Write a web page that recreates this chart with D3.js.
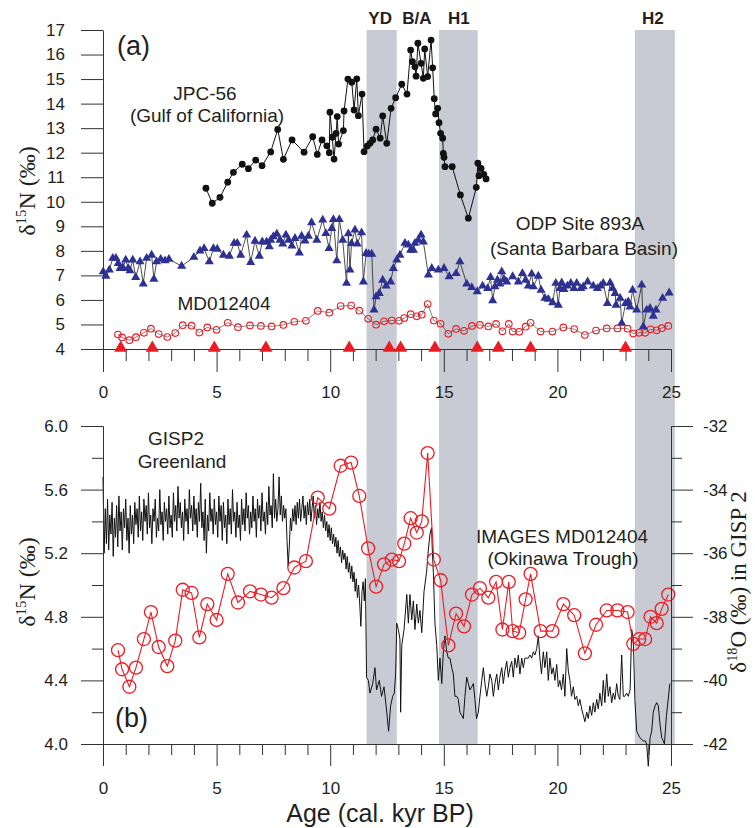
<!DOCTYPE html>
<html>
<head>
<meta charset="utf-8">
<script src="https://cdn.jsdelivr.net/npm/d3@7"></script>
<style>
  body { margin: 0; background: #fff; }
  text { font-family: "Liberation Sans", Arial, sans-serif; fill: #231f20; }
</style>
</head>
<body>
<svg id="chart" width="755" height="828"></svg>
<script>
// ---- data ----
// JPC-56 (Gulf of California), [age kyr, d15N]
const jpc56 = [[4.53,10.55],[4.81,9.94],[5.15,10.18],[5.49,10.8],[5.74,11.2],[6.13,11.53],[6.4,11.35],[6.72,11.7],[7.0,11.47],[7.38,12.03],[7.69,12.95],[7.94,11.73],[8.32,12.52],[8.85,12.02],[9.23,12.65],[9.43,11.93],[9.64,12.52],[9.85,12.28],[9.96,12.0],[9.99,13.65],[10.09,12.63],[10.17,11.74],[10.26,12.79],[10.31,13.47],[10.37,12.35],[10.58,12.9],[10.61,13.7],[10.78,15.0],[10.95,14.87],[11.05,13.74],[11.17,15.01],[11.24,13.51],[11.4,14.39],[11.49,12.04],[11.63,12.27],[11.75,12.38],[11.87,12.52],[12.02,12.96],[12.2,12.59],[12.31,13.5],[12.49,12.38],[12.68,13.81],[12.88,14.24],[13.15,14.79],[13.38,14.39],[13.54,16.18],[13.62,15.71],[13.73,15.5],[13.78,15.12],[13.86,16.46],[14.0,15.64],[14.1,15.03],[14.16,16.23],[14.29,15.1],[14.44,16.59],[14.51,15.46],[14.58,14.2],[14.64,13.58],[14.73,13.81],[14.79,13.22],[14.86,12.79],[14.95,12.59],[14.98,11.97],[15.01,11.81],[15.05,11.43],[15.37,11.43],[15.73,10.28],[16.08,9.33],[16.43,10.59],[16.5,11.57],[16.55,11.06],[16.64,11.36],[16.76,11.12],[16.86,10.93]];

// ODP Site 893A (Santa Barbara Basin)
const odp893A = [[0.01,7.15],[0.13,6.97],[0.28,7.22],[0.43,7.7],[0.57,7.7],[0.67,7.49],[0.75,7.29],[0.87,7.33],[1.0,7.63],[1.11,7.29],[1.19,7.19],[1.31,7.63],[1.44,6.92],[1.63,7.56],[1.77,6.65],[1.92,7.7],[2.14,7.83],[2.24,6.85],[2.36,7.56],[2.54,7.66],[2.73,7.6],[2.9,7.66],[3.46,7.38],[4.0,7.74],[4.27,8.0],[4.45,8.1],[4.68,7.56],[4.86,8.1],[5.03,8.07],[5.3,7.83],[5.56,7.79],[5.77,8.31],[5.91,8.31],[6.06,7.83],[6.32,8.65],[6.5,7.53],[6.69,8.4],[6.88,7.79],[7.01,8.37],[7.2,8.37],[7.32,8.17],[7.38,8.44],[7.5,8.58],[7.65,8.69],[7.79,8.44],[7.91,8.28],[8.05,8.65],[8.17,8.44],[8.31,8.2],[8.45,8.51],[8.64,7.92],[8.74,8.6],[8.89,8.41],[9.04,8.6],[9.18,9.15],[9.41,8.44],[9.67,9.26],[9.81,8.71],[9.95,8.1],[10.07,8.92],[10.14,9.28],[10.29,7.6],[10.4,9.28],[10.55,8.44],[10.72,6.68],[10.8,8.7],[10.87,7.22],[10.94,8.3],[11.09,8.85],[11.19,8.28],[11.38,8.74],[11.46,6.74],[11.58,7.9],[11.7,7.87],[11.83,7.87],[11.93,5.59],[12.02,6.13],[12.16,6.27],[12.31,6.81],[12.46,6.57],[12.66,6.74],[12.78,7.29],[12.93,7.63],[13.07,7.83],[13.29,8.31],[13.44,8.24],[13.54,8.03],[13.66,8.03],[13.73,8.31],[13.88,8.44],[14.0,8.65],[14.1,8.37],[14.32,7.02],[14.47,7.29],[14.76,7.22],[15.01,7.29],[15.24,6.95],[15.54,7.08],[15.71,7.56],[16.01,6.65],[16.23,6.51],[16.47,6.34],[16.71,6.57],[16.93,6.47],[17.06,6.92],[17.15,5.97],[17.25,6.54],[17.36,6.81],[17.47,6.65],[17.55,7.15],[17.65,6.84],[17.77,6.74],[18.03,6.95],[18.28,6.74],[18.46,7.08],[18.6,6.81],[18.72,6.57],[18.87,7.06],[18.94,6.54],[19.16,6.97],[19.28,6.4],[19.45,6.07],[19.6,6.03],[19.79,5.89],[19.93,6.68],[20.04,5.79],[20.11,6.47],[20.19,6.7],[20.29,6.43],[20.44,6.57],[20.59,6.68],[20.73,6.47],[20.85,6.68],[21.03,6.47],[21.14,6.54],[21.33,6.74],[21.58,6.57],[21.76,6.47],[21.9,6.57],[22.02,6.68],[22.2,5.86],[22.32,6.7],[22.43,6.47],[22.54,6.27],[22.58,5.79],[22.76,6.07],[22.83,5.05],[23.0,5.86],[23.12,5.93],[23.2,5.72],[23.31,6.4],[23.49,5.59],[23.71,6.61],[23.78,4.91],[23.93,5.59],[24.08,5.66],[24.22,5.34],[24.34,5.59],[24.63,6.07],[24.92,6.29]];

// IMAGES MD012404 (Okinawa Trough) d15N, used in both panels
const md012404 = [[0.66,4.59],[0.84,4.47],[1.16,4.36],[1.45,4.48],[1.8,4.66],[2.11,4.83],[2.45,4.61],[2.83,4.49],[3.18,4.65],[3.51,4.97],[3.9,4.95],[4.24,4.67],[4.59,4.88],[5.0,4.78],[5.49,5.07],[5.94,4.89],[6.47,4.96],[6.95,4.94],[7.42,4.92],[7.94,4.98],[8.42,5.11],[8.93,5.15],[9.45,5.55],[9.96,5.48],[10.46,5.75],[10.92,5.77],[11.28,5.56],[11.67,5.23],[12.02,4.99],[12.37,5.13],[12.71,5.16],[13.03,5.15],[13.26,5.26],[13.54,5.42],[13.81,5.33],[14.03,5.4],[14.29,5.83],[14.56,5.16],[14.86,5.03],[15.2,4.62],[15.54,4.82],[15.89,4.74],[16.24,4.94],[16.59,4.98],[16.96,4.92],[17.3,5.02],[17.58,4.72],[17.86,5.02],[18.03,4.71],[18.32,4.7],[18.6,4.91],[18.82,5.07],[19.26,4.71],[19.78,4.71],[20.26,4.88],[20.74,4.81],[21.21,4.57],[21.7,4.75],[22.17,4.84],[22.64,4.84],[23.09,4.83],[23.34,4.63],[23.6,4.66],[23.86,4.66],[24.1,4.8],[24.37,4.76],[24.59,4.85],[24.88,4.94]];

// radiocarbon-dated levels in MD012404 (red triangles)
const datedAges = [0.78,2.17,4.9,7.17,10.84,12.6,13.1,14.61,16.47,17.4,18.82,23.0];

// GISP2 d18O (per mil), [age kyr, d18O]
const gisp2 = [[0,-33.6],[0.05,-36.0],[0.1,-34.6],[0.15,-35.7],[0.2,-34.3],[0.25,-35.9],[0.3,-34.8],[0.35,-35.4],[0.4,-34.4],[0.45,-36.1],[0.5,-34.9],[0.55,-35.5],[0.6,-34.5],[0.65,-35.8],[0.7,-34.2],[0.75,-35.3],[0.8,-34.7],[0.85,-35.9],[0.9,-34.6],[0.95,-35.2],[1.0,-34.3],[1.05,-35.6],[1.1,-34.9],[1.15,-36.0],[1.2,-34.5],[1.25,-35.4],[1.3,-34.8],[1.35,-35.7],[1.4,-34.4],[1.45,-35.1],[1.5,-34.6],[1.55,-35.5],[1.6,-34.2],[1.65,-35.3],[1.7,-34.7],[1.75,-35.6],[1.8,-34.3],[1.85,-35.0],[1.9,-34.5],[1.95,-35.4],[2.0,-34.1],[2.05,-35.2],[2.1,-34.8],[2.15,-35.7],[2.2,-34.6],[2.25,-35.0],[2.3,-34.3],[2.35,-35.5],[2.4,-34.9],[2.45,-35.3],[2.5,-34.0],[2.55,-35.1],[2.6,-34.7],[2.65,-35.6],[2.7,-34.4],[2.75,-35.0],[2.8,-34.6],[2.85,-35.4],[2.9,-34.2],[2.95,-35.2],[3.0,-34.8],[3.05,-35.5],[3.1,-34.1],[3.15,-35.0],[3.2,-34.5],[3.25,-35.3],[3.3,-33.9],[3.35,-34.9],[3.4,-34.4],[3.45,-35.2],[3.5,-34.7],[3.55,-35.6],[3.6,-34.3],[3.65,-35.0],[3.7,-34.6],[3.75,-35.4],[3.8,-34.0],[3.85,-34.9],[3.9,-34.5],[3.95,-35.3],[4.0,-34.2],[4.05,-35.1],[4.1,-34.6],[4.15,-35.5],[4.2,-34.4],[4.25,-35.0],[4.3,-33.8],[4.35,-35.2],[4.4,-34.7],[4.45,-35.6],[4.5,-34.3],[4.55,-36.0],[4.6,-34.8],[4.65,-35.3],[4.7,-34.1],[4.75,-35.0],[4.8,-34.6],[4.85,-35.4],[4.9,-34.3],[4.95,-35.1],[5.0,-34.7],[5.05,-35.5],[5.1,-34.2],[5.15,-35.0],[5.2,-34.5],[5.25,-35.6],[5.3,-34.4],[5.35,-35.2],[5.4,-34.8],[5.45,-35.7],[5.5,-34.3],[5.55,-35.1],[5.6,-34.6],[5.65,-35.4],[5.7,-34.0],[5.75,-35.0],[5.8,-34.7],[5.85,-35.5],[5.9,-34.4],[5.95,-35.2],[6.0,-34.8],[6.05,-35.6],[6.1,-34.3],[6.15,-35.1],[6.2,-34.6],[6.25,-35.3],[6.3,-34.1],[6.35,-34.9],[6.4,-34.5],[6.45,-35.4],[6.5,-34.7],[6.55,-35.2],[6.6,-34.2],[6.65,-35.0],[6.7,-34.6],[6.75,-35.5],[6.8,-34.3],[6.85,-34.9],[6.9,-34.5],[6.95,-35.3],[7.0,-34.1],[7.05,-35.0],[7.1,-34.7],[7.15,-35.4],[7.2,-34.4],[7.25,-35.1],[7.3,-33.9],[7.35,-34.8],[7.4,-34.5],[7.45,-35.2],[7.5,-33.5],[7.55,-34.9],[7.6,-34.3],[7.65,-35.0],[7.7,-34.6],[7.75,-33.6],[7.8,-34.8],[7.85,-34.2],[7.9,-35.0],[7.95,-34.5],[8.0,-34.9],[8.05,-34.6],[8.1,-35.6],[8.15,-36.4],[8.2,-35.8],[8.25,-34.9],[8.3,-35.3],[8.35,-34.6],[8.4,-35.0],[8.45,-34.5],[8.5,-35.1],[8.55,-34.4],[8.6,-34.9],[8.65,-34.3],[8.7,-35.0],[8.75,-34.6],[8.8,-34.2],[8.85,-34.9],[8.9,-34.5],[8.95,-35.1],[9.0,-34.4],[9.05,-34.8],[9.1,-34.3],[9.15,-35.0],[9.2,-34.6],[9.25,-34.2],[9.3,-34.9],[9.35,-34.5],[9.4,-35.1],[9.45,-34.6],[9.5,-34.9],[9.55,-34.4],[9.6,-35.0],[9.65,-34.7],[9.7,-35.2],[9.75,-34.8],[9.8,-35.3],[9.85,-35.0],[9.9,-35.5],[9.95,-35.1],[10.0,-35.6],[10.05,-35.2],[10.1,-35.7],[10.15,-35.4],[10.2,-35.8],[10.25,-35.5],[10.3,-36.0],[10.35,-35.6],[10.4,-36.1],[10.45,-35.8],[10.5,-36.3],[10.55,-35.9],[10.6,-36.2],[10.65,-36.0],[10.7,-36.5],[10.75,-36.1],[10.8,-36.6],[10.85,-36.3],[10.9,-36.8],[10.95,-36.4],[11.0,-36.9],[11.05,-36.6],[11.1,-37.2],[11.15,-36.8],[11.2,-37.4],[11.25,-37.0],[11.3,-37.6],[11.35,-38.3],[11.4,-37.2],[11.45,-36.9],[11.5,-37.5],[11.55,-36.8],[11.6,-39.9],[11.68,-40.0],[11.75,-40.4],[11.87,-40.1],[11.97,-39.6],[12.04,-40.3],[12.16,-40.0],[12.26,-40.5],[12.37,-40.2],[12.49,-41.0],[12.57,-41.6],[12.66,-40.8],[12.75,-40.5],[12.82,-40.4],[12.88,-39.8],[12.93,-38.2],[13.0,-38.4],[13.07,-38.7],[13.1,-41.0],[13.15,-38.9],[13.25,-38.4],[13.37,-37.3],[13.44,-38.2],[13.51,-37.3],[13.59,-38.1],[13.66,-37.5],[13.73,-38.4],[13.81,-37.6],[13.88,-38.2],[13.95,-37.8],[14.03,-38.5],[14.13,-37.2],[14.24,-36.6],[14.32,-35.9],[14.39,-35.4],[14.46,-35.2],[14.5,-36.0],[14.54,-36.6],[14.61,-38.2],[14.69,-38.9],[14.76,-40.0],[14.83,-39.3],[14.91,-40.1],[14.98,-39.1],[15.05,-38.6],[15.13,-39.1],[15.2,-39.3],[15.27,-39.3],[15.35,-39.6],[15.42,-39.8],[15.49,-40.5],[15.57,-40.5],[15.64,-40.6],[15.71,-41.0],[15.79,-41.1],[15.86,-41.2],[15.93,-40.5],[16.01,-39.9],[16.08,-40.1],[16.15,-40.3],[16.23,-40.2],[16.3,-40.1],[16.37,-40.6],[16.44,-41.2],[16.52,-41.0],[16.59,-40.5],[16.67,-40.0],[16.74,-39.6],[16.81,-40.1],[16.89,-40.5],[16.96,-40.2],[17.03,-39.8],[17.11,-40.0],[17.18,-40.5],[17.25,-40.1],[17.33,-39.8],[17.4,-40.3],[17.47,-39.9],[17.55,-39.6],[17.62,-40.1],[17.69,-39.7],[17.77,-39.4],[17.84,-39.9],[17.91,-39.6],[17.99,-39.4],[18.06,-39.9],[18.13,-39.3],[18.21,-39.6],[18.28,-39.2],[18.35,-39.8],[18.43,-39.3],[18.5,-39.6],[18.57,-39.3],[18.65,-39.3],[18.72,-39.3],[18.79,-39.2],[18.87,-39.3],[18.94,-39.1],[19.01,-39.2],[19.09,-39.0],[19.16,-38.6],[19.23,-39.3],[19.3,-39.8],[19.38,-39.1],[19.45,-39.6],[19.53,-39.1],[19.6,-40.0],[19.67,-39.3],[19.75,-39.8],[19.82,-39.6],[19.89,-40.0],[19.97,-39.5],[20.04,-40.2],[20.11,-40.0],[20.18,-40.3],[20.26,-39.8],[20.33,-40.5],[20.41,-39.0],[20.48,-39.7],[20.55,-40.0],[20.62,-40.5],[20.7,-40.2],[20.77,-40.6],[20.85,-40.5],[20.92,-40.8],[20.99,-40.6],[21.07,-40.9],[21.14,-41.1],[21.21,-41.3],[21.29,-41.0],[21.36,-41.2],[21.43,-40.8],[21.51,-41.1],[21.58,-40.7],[21.65,-41.0],[21.73,-40.6],[21.8,-40.9],[21.87,-40.4],[21.95,-40.8],[22.02,-40.0],[22.09,-40.7],[22.17,-39.8],[22.24,-40.5],[22.31,-40.2],[22.39,-40.7],[22.46,-40.4],[22.53,-40.6],[22.61,-40.1],[22.68,-40.5],[22.75,-40.6],[22.83,-39.2],[22.9,-40.5],[22.97,-40.5],[23.05,-40.4],[23.12,-40.5],[23.2,-40.3],[23.27,-38.4],[23.34,-38.7],[23.41,-40.6],[23.49,-41.6],[23.63,-41.8],[23.78,-41.9],[23.86,-41.9],[23.93,-42.0],[24.0,-42.7],[24.08,-41.8],[24.15,-41.6],[24.22,-41.0],[24.3,-40.8],[24.37,-40.7],[24.44,-40.8],[24.52,-41.4],[24.59,-41.8],[24.66,-41.9],[24.71,-42.0],[24.8,-41.1],[24.95,-40.1]];

// climate events: shaded intervals (kyr) and labels
const events = [
  { name: "YD", start: 11.6, end: 12.93, label: 12.2 },
  { name: "B/A", label: 13.82 },
  { name: "H1", start: 14.79, end: 16.49, label: 15.66 },
  { name: "H2", start: 23.41, end: 25.17, label: 24.2 }
];

const ageTicks = [0, 5, 10, 15, 20, 25];
const ageMinor = [1, 2, 3, 4, 6, 7, 8, 9, 11, 12, 13, 14, 16, 17, 18, 19, 21, 22, 23, 24];
const topTicks = [4, 5, 6, 7, 8, 9, 10, 11, 12, 13, 14, 15, 16, 17];
const botTicks = [4.0, 4.4, 4.8, 5.2, 5.6, 6.0];
const botMinor = [4.2, 4.6, 5.0, 5.4, 5.8];
const o18Ticks = [-42, -40, -38, -36, -34, -32];
const o18Minor = [-41, -39, -37, -35, -33];

// ---- drawing ----
const svg = d3.select("#chart");
const x = d3.scaleLinear().domain([0, 25]).range([103, 671]);
const yA = d3.scaleLinear().domain([4, 17]).range([349, 30]);
const yB = d3.scaleLinear().domain([4, 6]).range([744, 426]);
const yO = d3.scaleLinear().domain([-42, -32]).range([744, 426]);

// shaded bands
svg.append("g").selectAll("rect").data(events.filter(e => e.end)).join("rect")
  .attr("x", d => x(d.start)).attr("width", d => x(d.end) - x(d.start))
  .attr("y", 30).attr("height", 715).attr("fill", "#c8cbd3");
svg.append("g").selectAll("text").data(events).join("text")
  .attr("x", d => x(d.label)).attr("y", 24).attr("text-anchor", "middle")
  .attr("font-size", 17).attr("font-weight", "bold").text(d => d.name);

// panel (a)
const lineA = d3.line().x(d => x(d[0])).y(d => yA(d[1]));
svg.append("path").datum(odp893A).attr("d", lineA).attr("fill", "none").attr("stroke", "#222").attr("stroke-width", 0.8);
svg.append("g").selectAll("path").data(odp893A).join("path")
  .attr("d", d3.symbol(d3.symbolTriangle, 36))
  .attr("transform", d => `translate(${x(d[0])},${yA(d[1])})`)
  .attr("fill", "#2e3192");

svg.append("path").datum(jpc56).attr("d", lineA).attr("fill", "none").attr("stroke", "#111").attr("stroke-width", 1);
svg.append("g").selectAll("circle").data(jpc56).join("circle")
  .attr("cx", d => x(d[0])).attr("cy", d => yA(d[1])).attr("r", 3.4).attr("fill", "#111");

svg.append("path").datum(md012404).attr("d", lineA).attr("fill", "none").attr("stroke", "#333").attr("stroke-width", 0.6);
svg.append("g").selectAll("circle").data(md012404).join("circle")
  .attr("cx", d => x(d[0])).attr("cy", d => yA(d[1])).attr("r", 3.3)
  .attr("fill", "none").attr("stroke", "#ed1c24").attr("stroke-width", 1.1);

// panel (b)
const lineO = d3.line().x(d => x(d[0])).y(d => yO(d[1]));
svg.append("path").datum(gisp2).attr("d", lineO).attr("fill", "none").attr("stroke", "#111").attr("stroke-width", 1);
const lineB = d3.line().x(d => x(d[0])).y(d => yB(d[1]));
svg.append("path").datum(md012404).attr("d", lineB).attr("fill", "none").attr("stroke", "#ed1c24").attr("stroke-width", 1.1);
svg.append("g").selectAll("circle").data(md012404).join("circle")
  .attr("cx", d => x(d[0])).attr("cy", d => yB(d[1])).attr("r", 6.5)
  .attr("fill", "none").attr("stroke", "#ed1c24").attr("stroke-width", 1.3);

// axes
function styleAxis(g) {
  g.attr("font-family", null).attr("font-size", null);
  g.selectAll("path, line").attr("stroke", "#333");
  g.selectAll("text").attr("font-size", 17).attr("fill", "#231f20");
}
function addAxis(axis, tx, ty) {
  return svg.append("g").attr("transform", `translate(${tx},${ty})`).call(axis).call(styleAxis);
}
addAxis(d3.axisLeft(yA).tickValues(topTicks).tickSize(22).tickPadding(16).tickSizeOuter(0), 103, 0);
addAxis(d3.axisBottom(x).tickValues(ageTicks).tickSize(23).tickPadding(14).tickSizeOuter(0), 0, 349);
addAxis(d3.axisBottom(x).tickValues(ageMinor).tickSize(12).tickFormat("").tickSizeOuter(0), 0, 349);

addAxis(d3.axisLeft(yB).tickValues(botTicks).tickSize(22).tickPadding(13).tickFormat(d3.format(".1f")).tickSizeOuter(0), 103, 0);
addAxis(d3.axisLeft(yB).tickValues(botMinor).tickSize(11).tickFormat("").tickSizeOuter(0), 103, 0);
addAxis(d3.axisRight(yO).tickValues(o18Ticks).tickSize(22).tickPadding(10).tickFormat(d => String(d)).tickSizeOuter(0), 671, 0);
addAxis(d3.axisRight(yO).tickValues(o18Minor).tickSize(11).tickFormat("").tickSizeOuter(0), 671, 0);
addAxis(d3.axisBottom(x).tickValues(ageTicks).tickSize(22).tickPadding(16).tickSizeOuter(0), 0, 744);
addAxis(d3.axisBottom(x).tickValues(ageMinor).tickSize(11).tickFormat("").tickSizeOuter(0), 0, 744);

// dated levels on top of the panel (a) axis
svg.append("g").selectAll("path").data(datedAges).join("path")
  .attr("d", d3.symbol(d3.symbolTriangle, 75))
  .attr("transform", d => `translate(${x(d)},${yA(4) - 1})`)
  .attr("fill", "#ed1c24");

// annotations
function label(txt, px, py, size, anchor) {
  svg.append("text").attr("x", px).attr("y", py).attr("font-size", size)
    .attr("text-anchor", anchor || "middle").text(txt);
}
label("(a)", 117, 55, 27, "start");
label("(b)", 115, 727, 27, "start");
label("JPC-56", 205, 100, 19);
label("(Gulf of California)", 207, 122, 19);
label("ODP Site 893A", 580, 230, 19);
label("(Santa Barbara Basin)", 584, 255, 19);
label("MD012404", 224, 310, 19);
label("GISP2", 176, 445, 19);
label("Greenland", 182, 468, 19);
label("IMAGES MD012404", 562, 543, 19);
label("(Okinawa Trough)", 563, 565, 19);
label("Age (cal. kyr BP)", 380, 822, 25);

function yTitle(tx, ty, sup, rest, lead, size) {
  const t = svg.append("text").attr("transform", `translate(${tx},${ty}) rotate(-90)`)
    .attr("text-anchor", "middle").attr("font-size", size)
    .style("font-family", "'Liberation Serif', 'Times New Roman', serif");
  t.append("tspan").text(lead);
  t.append("tspan").attr("font-size", size * 0.62).attr("dy", -9).text(sup);
  t.append("tspan").attr("dy", 9).text(rest);
}
yTitle(35, 191, "15", "N (\u2030)", "\u03b4", 24);
yTitle(35, 582, "15", "N (\u2030)", "\u03b4", 24);
yTitle(746, 582, "18", "O (\u2030) in GISP 2", "\u03b4", 23);
</script>
</body>
</html>
